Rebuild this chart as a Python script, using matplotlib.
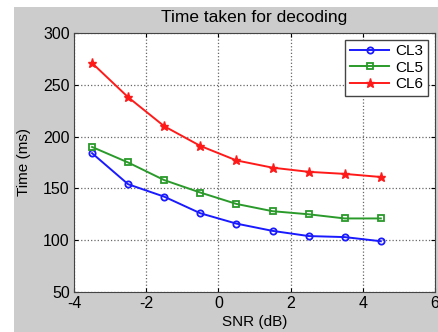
import numpy as np
import matplotlib.pyplot as plt
from matplotlib.patches import Rectangle

# data
snr = [-3.5, -2.5, -1.5, -0.5, 0.5, 1.5, 2.5, 3.5, 4.5]
cl3 = [184, 154, 142, 126, 116, 109, 104, 103, 99]
cl5 = [190, 175, 158, 146, 135, 128, 125, 121, 121]
cl6 = [271, 238, 210, 191, 177, 170, 166, 164, 161]
x_ticks = [-4, -2, 0, 2, 4, 6]
y_ticks = [50, 100, 150, 200, 250, 300]

plt.rcParams['font.family'] = ['Liberation Sans', 'DejaVu Sans']
plt.rcParams['axes.unicode_minus'] = False

fig = plt.figure(figsize=(4.38, 3.32), dpi=100, facecolor='white')
# grey MATLAB-like figure background, slightly inset from left/top
fig.add_artist(Rectangle((14 / 438, 0), 1, 1 - 7 / 332, transform=fig.transFigure,
                         facecolor='#cccccc', edgecolor='none', zorder=-10))

ax = fig.add_axes([74 / 438, 1 - 292 / 332, 361 / 438, 259 / 332])
ax.set_zorder(5)
ax.set_facecolor('white')

ax.plot(snr, cl3, '-o', color='#1a1aff', lw=1.4, ms=4.5, mfc='none', mew=1.3, label='CL3')
ax.plot(snr, cl5, '-s', color='#2a9a2a', lw=1.4, ms=4.5, mfc='none', mew=1.3, label='CL5')
ax.plot(snr, cl6, '-*', color='#ff1a1a', lw=1.4, ms=6.5, label='CL6')

ax.set_xlim(-4, 6)
ax.set_ylim(50, 300)
ax.set_xticks(x_ticks)
ax.set_yticks(y_ticks)
ax.tick_params(direction='in', top=True, right=True, labelsize=11.5, length=3, pad=3)
ax.grid(True, linestyle=':', color='#666666', linewidth=0.9)
for s in ax.spines.values():
    s.set_color('#444444')

ax.set_title('Time taken for decoding', fontsize=12.5, pad=8)
ax.set_xlabel('SNR (dB)', fontsize=11, labelpad=2.5)
ax.set_ylabel('Time (ms)', fontsize=11, labelpad=9)

leg = ax.legend(loc='upper right', fontsize=11, fancybox=False, framealpha=1,
                edgecolor='#444444', handlelength=2.6, handletextpad=0.4,
                labelspacing=0.15, borderpad=0.3, borderaxespad=0.45)

plt.savefig('out.png', dpi=100)
